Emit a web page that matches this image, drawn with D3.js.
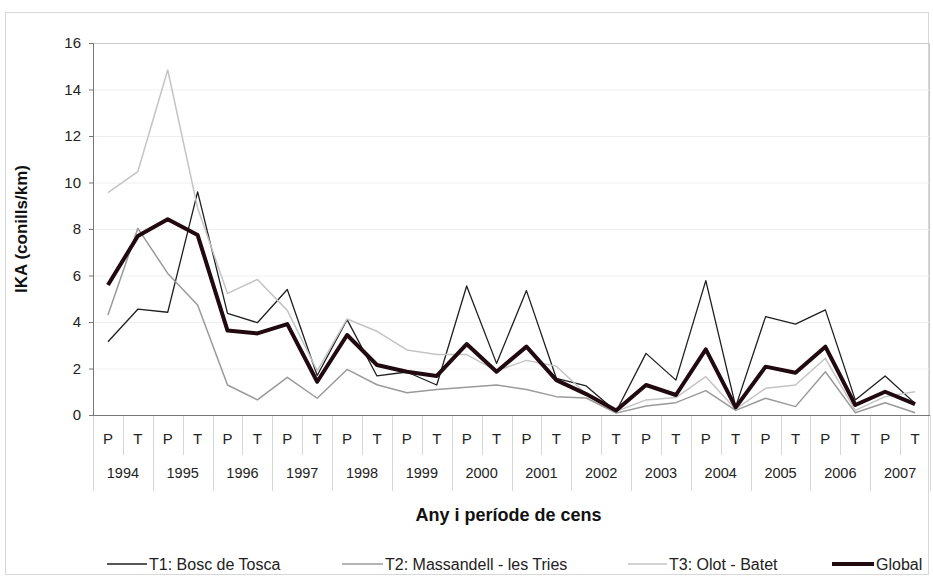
<!DOCTYPE html>
<html>
<head>
<meta charset="utf-8">
<script src="https://cdn.jsdelivr.net/npm/d3@7"></script>
<style>
body { margin: 0; background: #fff; }
text { font-family: "Liberation Sans", Arial, sans-serif; }
</style>
</head>
<body>
<script>
// survey years and census periods (P / T)
var years = ["1994","1995","1996","1997","1998","1999","2000","2001","2002","2003","2004","2005","2006","2007"];
var periods = ["P", "T"];
var yTicks = [0, 2, 4, 6, 8, 10, 12, 14, 16];

// IKA values, one per year/period
var t1 = [3.15,4.55,4.42,9.6,4.37,3.97,5.4,1.7,4.1,1.68,1.85,1.29,5.55,2.22,5.35,1.58,1.25,0.15,2.65,1.5,5.78,0.36,4.23,3.91,4.52,0.65,1.68,0.5];
var t2 = [4.3,8.03,6.09,4.73,1.29,0.65,1.62,0.72,1.96,1.3,0.96,1.1,1.19,1.29,1.1,0.79,0.73,0.08,0.39,0.53,1.05,0.2,0.72,0.36,1.86,0.1,0.53,0.1];
var t3 = [9.56,10.47,14.84,8.9,5.23,5.83,4.5,1.9,4.13,3.6,2.8,2.6,2.6,1.9,2.35,2.1,0.9,0.15,0.65,0.75,1.65,0.25,1.15,1.29,2.44,0.2,0.79,1.0];
var globalIka = [5.59,7.7,8.42,7.74,3.63,3.51,3.91,1.43,3.44,2.15,1.86,1.68,3.05,1.86,2.94,1.5,0.9,0.19,1.29,0.86,2.82,0.33,2.08,1.82,2.94,0.43,1.0,0.47];

var series = [
    {name: "T1: Bosc de Tosca", values: t1, color: "#1f1f1f", width: 1.3},
    {name: "T2: Massandell - les Tries", values: t2, color: "#9a9a9a", width: 1.5},
    {name: "T3: Olot - Batet", values: t3, color: "#c4c4c4", width: 1.5},
    {name: "Global", values: globalIka, color: "#200a10", width: 4}
];

var cats = [];
years.forEach(function(y) {
    periods.forEach(function(p) { cats.push(y + p); });
});

var svg = d3.select("body").append("svg")
        .attr("width", 933)
        .attr("height", 576);

var margin = {top: 43, right: 3, bottom: 161, left: 93};
var width = 933 - margin.left - margin.right;
var height = 576 - margin.top - margin.bottom;

// outer frame
svg.append("rect")
    .attr("x", 5.5).attr("y", 12.5)
    .attr("width", 923).attr("height", 562)
    .attr("fill", "none")
    .attr("stroke", "#d8d8d8");

var g = svg.append("g")
    .attr("transform", "translate(" + margin.left + "," + margin.top + ")");

var x = d3.scaleBand().domain(cats).range([0, width]).padding(0);
var y = d3.scaleLinear().domain([0, 16]).range([height, 0]);

// faint gridlines
g.append("g").selectAll("line")
    .data(yTicks.slice(1, -1))
    .enter().append("line")
    .attr("x1", 0).attr("x2", width)
    .attr("y1", function(d) { return y(d) + 0.5; })
    .attr("y2", function(d) { return y(d) + 0.5; })
    .attr("stroke", "#efefef");

// plot area border (top/right)
g.append("path")
    .attr("d", "M0,0.5H" + (width - 0.5) + "V" + height)
    .attr("fill", "none")
    .attr("stroke", "#c8c8c8");

var yaxis = g.append("g")
    .call(d3.axisLeft(y).tickValues(yTicks).tickSize(4).tickPadding(8));
yaxis.select(".domain").attr("stroke", "#777");
yaxis.selectAll(".tick line").attr("stroke", "#777");
yaxis.selectAll("text").attr("font-size", 15).attr("fill", "#222")
    .attr("font-family", "'Liberation Sans', Arial, sans-serif");

// category axis: separators between periods and years
var sep = g.append("g").attr("transform", "translate(0," + height + ")");
d3.range(cats.length + 1).forEach(function(k) {
    var xx = Math.round(k * x.bandwidth()) + 0.5;
    sep.append("line")
        .attr("x1", xx).attr("x2", xx)
        .attr("y1", 0).attr("y2", k % 2 == 0 ? 76 : 40)
        .attr("stroke", "#d6d6d6");
});
sep.append("line")
    .attr("x1", 0).attr("x2", width)
    .attr("y1", 0.5).attr("y2", 0.5)
    .attr("stroke", "#777");

sep.selectAll("text.per")
    .data(cats)
    .enter().append("text")
    .attr("class", "per")
    .attr("x", function(d) { return x(d) + x.bandwidth() / 2; })
    .attr("y", 29)
    .attr("text-anchor", "middle")
    .attr("font-size", 15)
    .attr("fill", "#222")
    .text(function(d) { return d.slice(4); });

sep.selectAll("text.yr")
    .data(years)
    .enter().append("text")
    .attr("class", "yr")
    .attr("x", function(d) { return x(d + "P") + x.bandwidth(); })
    .attr("y", 63)
    .attr("text-anchor", "middle")
    .attr("font-size", 14.5)
    .attr("fill", "#222")
    .text(function(d) { return d; });

// axis titles
svg.append("text")
    .attr("x", margin.left + width / 2 - 3)
    .attr("y", 521)
    .attr("text-anchor", "middle")
    .attr("font-size", 18)
    .attr("font-weight", "bold")
    .attr("fill", "#111")
    .text("Any i període de cens");

svg.append("text")
    .attr("transform", "translate(27,229) rotate(-90)")
    .attr("text-anchor", "middle")
    .attr("font-size", 17)
    .attr("font-weight", "bold")
    .attr("fill", "#111")
    .text("IKA (conills/km)");

var line = d3.line()
    .x(function(d, i) { return x(cats[i]) + x.bandwidth() / 2; })
    .y(function(d) { return y(d); });

series.forEach(function(s) {
    g.append("path")
        .datum(s.values)
        .attr("fill", "none")
        .attr("stroke", s.color)
        .attr("stroke-width", s.width)
        .attr("stroke-linejoin", "round")
        .attr("d", line);
});

// legend
var legendX = [107, 342, 628, 832];
var legendLen = [40, 41, 39, 42];
var legend = svg.append("g").attr("transform", "translate(0,564)");
series.forEach(function(s, i) {
    legend.append("line")
        .attr("x1", legendX[i]).attr("x2", legendX[i] + legendLen[i])
        .attr("y1", 0).attr("y2", 0)
        .attr("stroke", s.color)
        .attr("stroke-width", s.width);
    legend.append("text")
        .attr("x", legendX[i] + legendLen[i] + 2)
        .attr("y", 6)
        .attr("font-size", 16)
        .attr("fill", "#222")
        .text(s.name);
});
</script>
</body>
</html>
